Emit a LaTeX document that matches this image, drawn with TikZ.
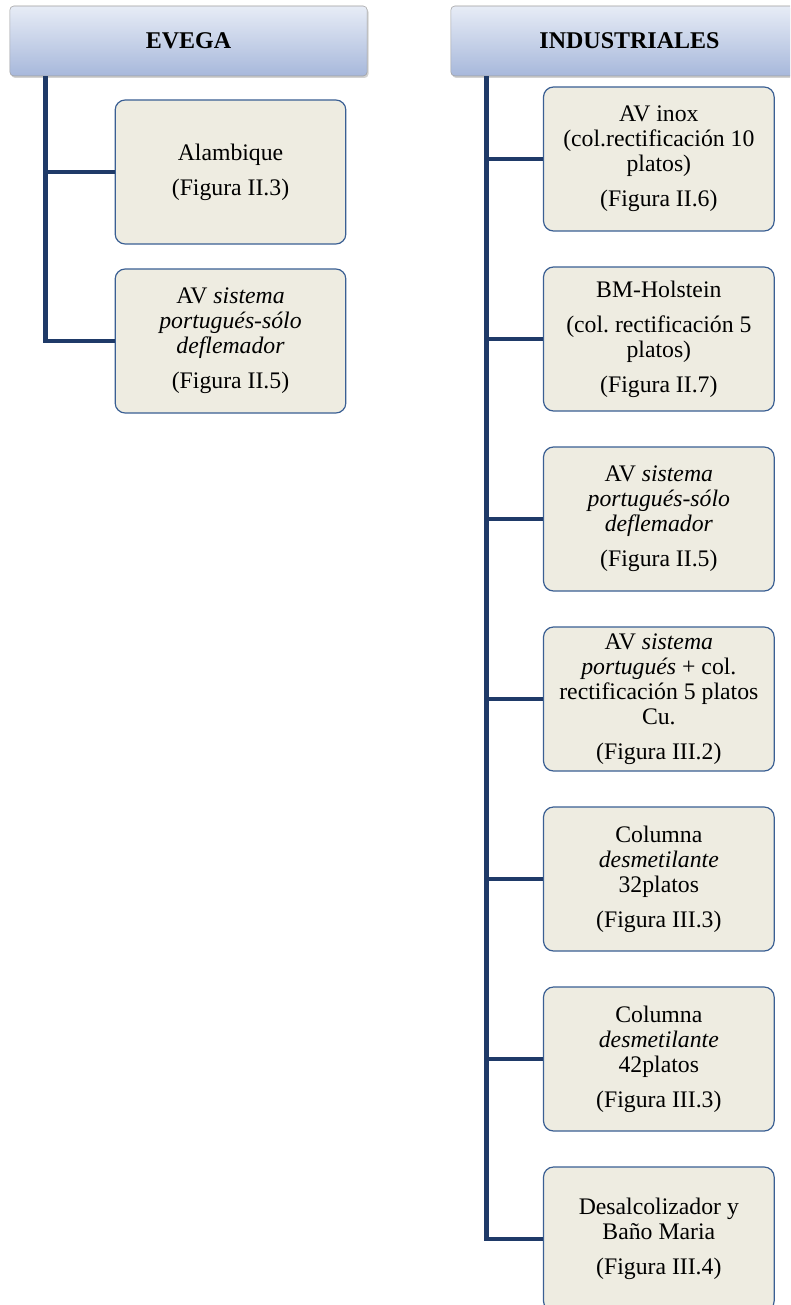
\documentclass[tikz,border=0pt]{standalone}
\usepackage{fontspec}
\setmainfont{Liberation Serif}
\usetikzlibrary{positioning, shadows}

\definecolor{trunk}{HTML}{1F3A68}
\definecolor{boxfill}{HTML}{EEECE1}
\definecolor{boxline}{HTML}{3A5F93}
\definecolor{headtop}{HTML}{E7ECF6}
\definecolor{headbot}{HTML}{A7B8DB}

\tikzset{
  head/.style = {rectangle, rounded corners=3pt, draw=gray!75,
    top color=headtop, bottom color=headbot,
    minimum width=268pt, minimum height=52.5pt,
    font=\fontsize{18}{21}\selectfont\bfseries,
    drop shadow={shadow xshift=1pt, shadow yshift=-1.5pt, opacity=0.35}},
  item/.style = {rectangle, rounded corners=7.5pt, draw=boxline, line width=0.9pt,
    fill=boxfill, minimum width=173pt, minimum height=108pt, align=center,
    font=\fontsize{17.8}{18.75}\selectfont\frenchspacing},
  branch/.style = {draw=trunk, line width=3.6pt, line join=miter}
}

\begin{document}
\begin{tikzpicture} [x=0.75pt, y=0.75pt, node distance=135pt, on grid]
    \useasboundingbox (0,0) rectangle (790,-1305);
    \fill[white] (0,0) rectangle (790,-1305);
    \clip (0,0) rectangle (790,-1305);

    \node (evega) [head] at (188.5,-41) {EVEGA};
    \node (ind) [head] at (629.5,-41) {INDUSTRIALES};

    % EVEGA column
    \node (alam) [item, below right = 98.25pt and 31.5pt of evega] {Alambique\\[7.5pt](Figura II.3)};
    \node (avp) [item, below = 126.75pt of alam] {AV \textit{sistema}\\\textit{portugués-sólo}\\\textit{deflemador}\\[7.5pt](Figura II.5)};

    % industrial column
    \node (inox) [item, below right = 88.5pt and 22pt of ind] {AV inox\\(col.rectificación 10\\platos)\\[7.5pt](Figura II.6)};
    \node (bmh) [item, below = of inox] {BM-Holstein\\[7.5pt](col. rectificación 5\\platos)\\[7.5pt](Figura II.7)};
    \node (avpi) [item, below = of bmh] {AV \textit{sistema}\\\textit{portugués-sólo}\\\textit{deflemador}\\[7.5pt](Figura II.5)};
    \node (avcu) [item, below = of avpi] {AV \textit{sistema}\\\textit{portugués} + col.\\rectificación 5 platos\\Cu.\\[7.5pt](Figura III.2)};
    \node (des32) [item, below = of avcu] {Columna\\\textit{desmetilante}\\32platos\\[7.5pt](Figura III.3)};
    \node (des42) [item, below = of des32] {Columna\\\textit{desmetilante}\\42platos\\[7.5pt](Figura III.3)};
    \node (bano) [item, below = of des42] {Desalcolizador y\\Baño Maria\\[7.5pt](Figura III.4)};

    \coordinate (et) at ([xshift=27pt]evega.south west);
    \coordinate (it) at ([xshift=27pt]ind.south west);

    \draw[branch] (et) |- (alam.west);
    \draw[branch] (et) |- (avp.west);

    \draw[branch] (it) |- (inox.west);
    \draw[branch] (it) |- (bmh.west);
    \draw[branch] (it) |- (avpi.west);
    \draw[branch] (it) |- (avcu.west);
    \draw[branch] (it) |- (des32.west);
    \draw[branch] (it) |- (des42.west);
    \draw[branch] (it) |- (bano.west);
\end{tikzpicture}
\end{document}
